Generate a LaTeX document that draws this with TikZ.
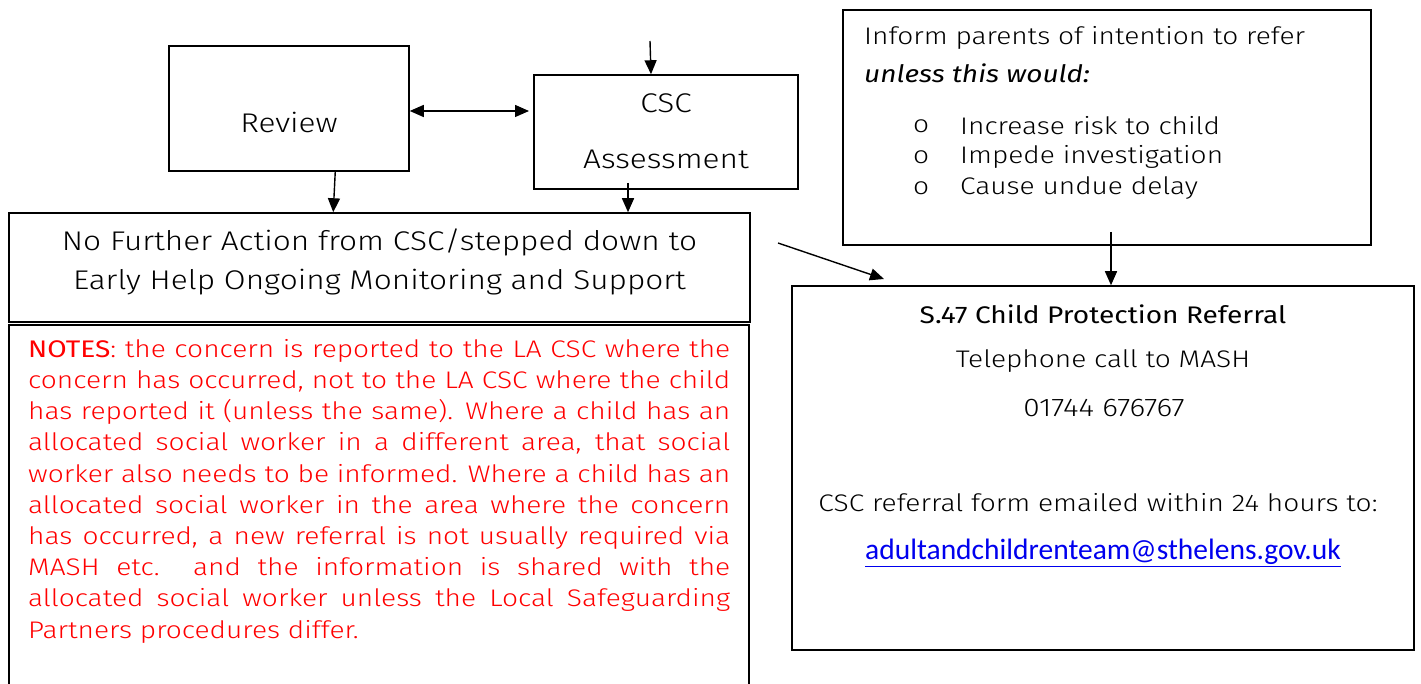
\documentclass[tikz,border=0pt]{standalone}
\usepackage{fontspec}
\setmainfont{Fira Sans Light}[FakeStretch=1.17, BoldFont={Fira Sans}, ItalicFont={Fira Sans Light Italic}, BoldItalicFont={Fira Sans Italic}]
\newfontfamily\mailfont{Carlito}
\usetikzlibrary{arrows.meta,calc}
\definecolor{notered}{RGB}{255,0,0}
\definecolor{linkblue}{RGB}{0,0,238}
\newcommand{\nline}[1]{{\parfillskip=0pt #1\par}}
\begin{document}
\begin{tikzpicture}[x=1pt,y=-1pt,
  box/.style={draw, line width=1.5pt, inner sep=0pt},
  txt/.style={inner sep=0pt, font=\fontsize{24}{30}\selectfont},
  bigtxt/.style={inner sep=0pt, font=\fontsize{27}{32}\selectfont},
  arr/.style={line width=1.4pt, -{Triangle[length=14pt,width=12pt]}},
  darr/.style={line width=1.4pt, {Triangle[length=14pt,width=12pt]}-{Triangle[length=14pt,width=12pt]}}]
\useasboundingbox (0,0) rectangle (1421,684);
\clip (0,0) rectangle (1421,684);
% boxes
\node[box, minimum width=240pt, minimum height=125pt] (review) at (289,108.5) {};
\node[box, minimum width=264pt, minimum height=114pt] (csc) at (666,132) {};
\node[box, minimum width=741pt, minimum height=109pt] (nfa) at (379.5,267.5) {};
\node[box, minimum width=740pt, minimum height=380pt] (notes) at (379,515) {};
\node[box, minimum width=528pt, minimum height=235pt] (inform) at (1107,127.5) {};
\node[box, minimum width=622pt, minimum height=364pt] (s47) at (1103,468) {};
% texts
\node[bigtxt] (treview) at (289,122) {Review};
\node[bigtxt] (tcsc1) at (666,103) {CSC};
\node[bigtxt] (tcsc2) at (666,159) {Assessment};
\node[bigtxt] (tnfa1) at (379.5,242.5) {No Further Action from CSC/stepped down to};
\node[bigtxt] (tnfa2) at (379.5,282) {Early Help Ongoing Monitoring and Support};
\node[txt, anchor=west] (tinf1) at (864,38) {Inform parents of intention to refer};
\node[txt, anchor=west] (tinf2) at (864,73) {\bfseries\itshape unless this would:};
\node[txt, anchor=west] (b1) at (913,126) {o};
\node[txt, anchor=west] (b2) at (913,157) {o};
\node[txt, anchor=west] (b3) at (913,188) {o};
\node[txt, anchor=west] (i1) at (960,126) {Increase risk to child};
\node[txt, anchor=west] (i2) at (960,157) {Impede investigation};
\node[txt, anchor=west] (i3) at (960,188) {Cause undue delay};
\node[txt] (ts1) at (1103,314) {\bfseries S.47 Child Protection Referral};
\node[txt] (ts2) at (1103,361) {Telephone call to MASH};
\node[txt] (ts3) at (1104,408.5) {\fontsize{25.5}{30}\selectfont 01744 676767};
\node[txt] (ts4) at (1098,503) {CSC referral form emailed within 24 hours to:};
\node[inner sep=0pt, text=linkblue, font=\mailfont\fontsize{29.5}{34}\selectfont] (ts5) at (1103,553) {\underline{adultandchildrenteam@sthelens.gov.uk}};
\node[inner sep=0pt, anchor=north west, text=notered, text width=702pt, align=justify,
  font=\fontsize{24}{31.2}\selectfont] (tnotes) at (28,339) {%
\nline{\bfseries NOTES\mdseries: the concern is reported to the LA CSC where the}
\nline{concern has occurred, not to the LA CSC where the child}
\nline{has reported it (unless the same). Where a child has an}
\nline{allocated social worker in a different area, that social}
\nline{worker also needs to be informed. Where a child has an}
\nline{allocated social worker in the area where the concern}
\nline{has occurred, a new referral is not usually required via}
\nline{MASH etc.\ \ and the information is shared with the}
\nline{allocated social worker unless the Local Safeguarding}
Partners procedures differ.\par};
% second line of double top border of notes
\draw[line width=1.5pt] (nfa.south west) ++(0,3) -- ++(741,0);
% connectors
\coordinate (topin) at (650,41);
\draw[arr] (topin) -- (651,0 |- csc.north);
\draw[darr] (review.east |- 0,111) -- (529,111);
\draw[arr] ($(review.south west)+(167,0)$) -- ($(nfa.north west)+(325,0)$);
\draw[arr] (628,183) -- (628,0 |- nfa.north);
\coordinate (dstart) at (778,243);
\coordinate (dend) at (884,279);
\draw[arr] (dstart) -- (dend);
\draw[arr] (1111,232) -- (1111,0 |- s47.north);
\end{tikzpicture}
\end{document}
